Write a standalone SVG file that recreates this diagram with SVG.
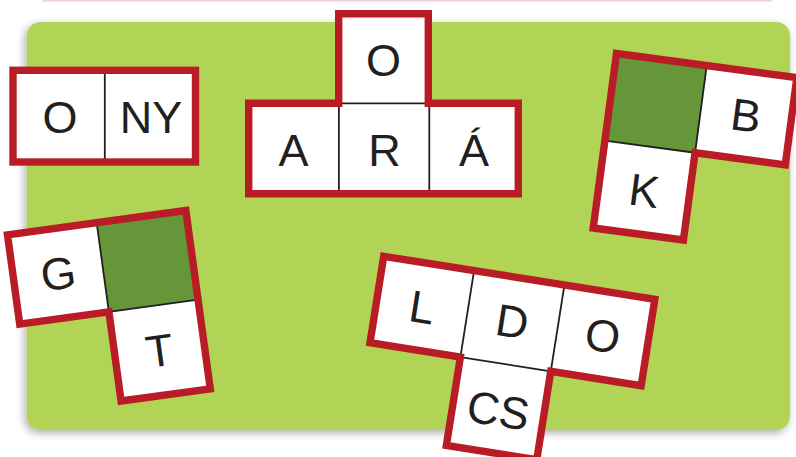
<svg xmlns="http://www.w3.org/2000/svg" width="796" height="457" viewBox="0 0 796 457">
<defs>
<filter id="sh" x="-5%" y="-5%" width="110%" height="115%">
<feDropShadow dx="-2" dy="3" stdDeviation="4" flood-color="#000" flood-opacity="0.33"/>
</filter>
</defs>
<style>
.cell{fill:#ffffff;stroke:none}
.dark{fill:#66963a;stroke:none}
.div{stroke:#231f20;stroke-width:1.8;fill:none}
.frame{fill:none;stroke:#b91c24;stroke-width:7.4;stroke-linejoin:miter}
text{font-family:"Liberation Sans",Arial,sans-serif;font-size:45px;fill:#231f20;text-anchor:middle}
</style>
<rect x="0" y="0" width="796" height="457" fill="#ffffff"/>
<rect x="42" y="0" width="730" height="1.6" fill="#f3d2d2"/>
<rect id="board" x="26.7" y="22" width="763.3" height="408" rx="14" ry="14" fill="#b1d456" filter="url(#sh)"/>

<g id="tile-o-ny">
<rect class="cell" x="13" y="70.3" width="182.5" height="91.7"/>
<line class="div" x1="104.8" y1="70.3" x2="104.8" y2="162"/>
<rect class="frame" x="13" y="70.3" width="182.5" height="91.7"/>
<text x="60" y="133">O</text>
<text x="151" y="133">NY</text>
</g>

<g id="tile-o-ara">
<path class="cell" d="M248.7,103.3 H338.7 V13.7 H428.3 V103.3 H518.3 V193.7 H248.7 Z"/>
<line class="div" x1="338.9" y1="103.3" x2="338.9" y2="193.7"/>
<line class="div" x1="429.3" y1="103.3" x2="429.3" y2="193.7"/>
<line class="div" x1="338.7" y1="103.3" x2="428.3" y2="103.3"/>
<path class="frame" d="M248.7,103.3 H338.7 V13.7 H428.3 V103.3 H518.3 V193.7 H248.7 Z"/>
<text x="383.5" y="76">O</text>
<text x="293.6" y="166">A</text>
<text x="384.5" y="166">R</text>
<text x="474" y="166">Á</text>
</g>

<g id="tile-b-k" transform="translate(616.5,53.5) rotate(7.6)">
<rect class="dark" x="0" y="0" width="91" height="88"/>
<rect class="cell" x="91" y="0" width="91" height="88"/>
<rect class="cell" x="0" y="88" width="91" height="88"/>
<line class="div" x1="91" y1="0" x2="91" y2="88"/>
<line class="div" x1="0" y1="88" x2="91" y2="88"/>
<path class="frame" d="M0,0 H182 V88 H91 V176 H0 Z"/>
<text x="136.5" y="60">B</text>
<text x="45.5" y="148">K</text>
</g>

<g id="tile-g-t" transform="translate(7.5,234.9) rotate(-7.8)">
<rect class="cell" x="0" y="0" width="90" height="90"/>
<rect class="dark" x="90" y="0" width="90" height="90"/>
<rect class="cell" x="90" y="90" width="90" height="90"/>
<line class="div" x1="90" y1="0" x2="90" y2="90"/>
<line class="div" x1="90" y1="90" x2="180" y2="90"/>
<path class="frame" d="M0,0 H180 V180 H90 V90 H0 Z"/>
<text x="45" y="61">G</text>
<text x="135" y="151">T</text>
</g>

<g id="tile-ldo-cs" transform="translate(383.7,256.3) rotate(9)">
<path class="cell" d="M0,0 H274.5 V87.5 H183 V177 H91.5 V87.5 H0 Z"/>
<line class="div" x1="91.5" y1="0" x2="91.5" y2="87.5"/>
<line class="div" x1="183" y1="0" x2="183" y2="87.5"/>
<line class="div" x1="91.5" y1="87.5" x2="183" y2="87.5"/>
<path class="frame" d="M0,0 H274.5 V87.5 H183 V177 H91.5 V87.5 H0 Z"/>
<text x="45.75" y="60">L</text>
<text x="137.25" y="60">D</text>
<text x="228.75" y="60">O</text>
<text x="137.25" y="150">CS</text>
</g>
</svg>
